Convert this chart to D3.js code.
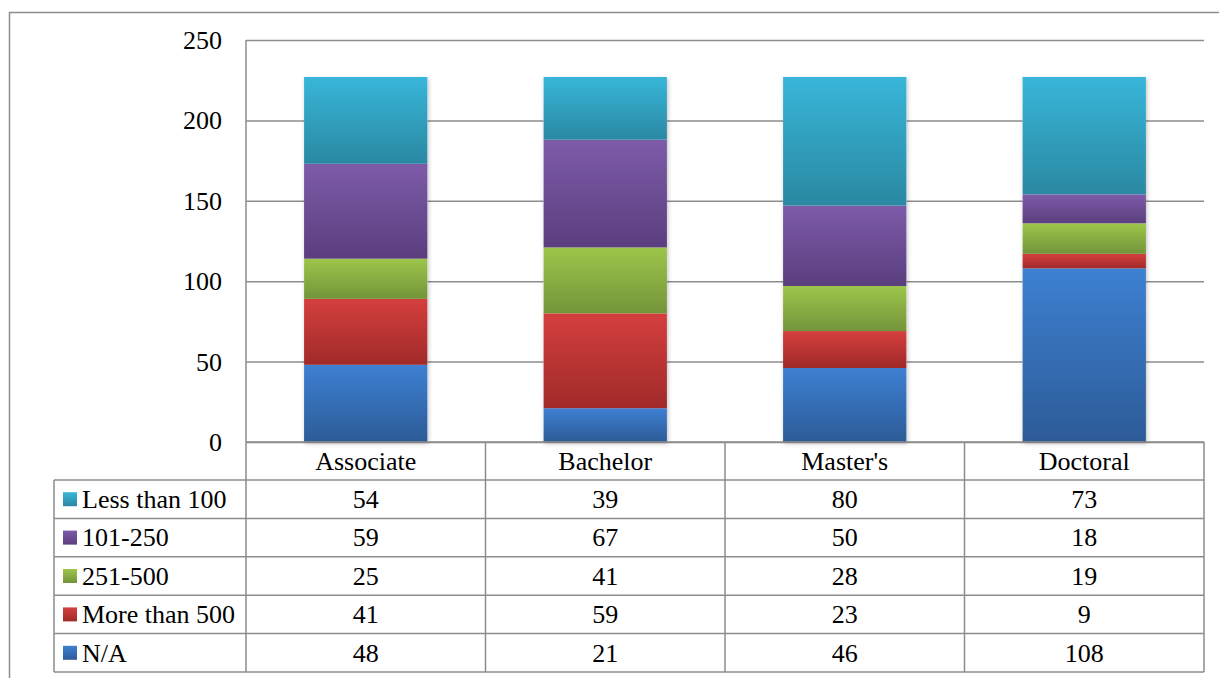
<!DOCTYPE html>
<html>
<head>
<meta charset="utf-8">
<script src="https://cdn.jsdelivr.net/npm/d3@7/dist/d3.min.js"></script>
<style>
html,body{margin:0;padding:0;background:#fff;}
svg{display:block;}
svg text{font-family:"Liberation Serif", serif;}
</style>
</head>
<body>
<svg id="chart" width="1219" height="678"></svg>
<script>
const categories = ["Associate", "Bachelor", "Master's", "Doctoral"];
const seriesNames = ["N/A", "More than 500", "251-500", "101-250", "Less than 100"];
const naValues = [48, 21, 46, 108];
const moreThan500 = [41, 59, 23, 9];
const v251to500 = [25, 41, 28, 19];
const v101to250 = [59, 67, 50, 18];
const lessThan100 = [54, 39, 80, 73];
const yTicks = [0, 50, 100, 150, 200, 250];
const colorsTop = ["#3d80d2", "#d43f3e", "#9dc54a", "#7e5ba9", "#38b6d9"];
const colorsBottom = ["#2d5b97", "#a02a29", "#74943a", "#5a3e7e", "#2a88a2"];

const FONT = `"Liberation Serif", serif`;
const FSIZE = "26px";

const seriesValues = [naValues, moreThan500, v251to500, v101to250, lessThan100];
const rows = categories.map((c, i) => {
  const r = {category: c};
  seriesNames.forEach((s, j) => r[s] = seriesValues[j][i]);
  return r;
});

const svg = d3.select("#chart");
const W = 1219, H = 678;
const plot = {left: 246, right: 1204, top: 40, bottom: 442};
const tableLeft = 54, rowH = 38.4, headerH = 38;
const gray = "#8c8c8c";

svg.append("path").attr("d", `M9.5,${H} L9.5,12.5 L${W},12.5`).attr("fill", "none").attr("stroke", gray).attr("stroke-width", 1.5);

const y = d3.scaleLinear().domain([0, 250]).range([plot.bottom, plot.top]);
const x = d3.scaleBand().domain(categories).range([plot.left, plot.right]).paddingInner(0.485).paddingOuter(0.2425);
const xCol = d3.scaleBand().domain(categories).range([plot.left, plot.right]);

const defs = svg.append("defs");
seriesNames.forEach((s, j) => {
  const g = defs.append("linearGradient").attr("id", "grad" + j).attr("x1", 0).attr("y1", 0).attr("x2", 0).attr("y2", 1);
  g.append("stop").attr("offset", "0%").attr("stop-color", colorsTop[j]);
  g.append("stop").attr("offset", "100%").attr("stop-color", colorsBottom[j]);
});
const f = defs.append("filter").attr("id", "shadow").attr("x", "-10%").attr("y", "-10%").attr("width", "120%").attr("height", "120%");
f.append("feDropShadow").attr("dx", 1).attr("dy", 1.5).attr("stdDeviation", 2).attr("flood-color", "#000").attr("flood-opacity", 0.25);

const yAxis = d3.axisLeft(y).tickValues(yTicks).tickSize(-(plot.right - plot.left)).tickFormat(d3.format("d")).tickPadding(24);
const ga = svg.append("g").attr("transform", `translate(${plot.left},0)`).call(yAxis);
ga.attr("font-family", FONT).attr("font-size", 26);
ga.select(".domain").remove();
ga.selectAll(".tick line").attr("stroke", gray).attr("stroke-width", 1.5);
ga.selectAll(".tick text").style("font-family", FONT).style("font-size", FSIZE).attr("fill", "#000").attr("dy", "0.33em");

svg.append("line").attr("x1", plot.left).attr("x2", plot.left).attr("y1", plot.top).attr("y2", plot.bottom + headerH + rowH * 5)
  .attr("stroke", gray).attr("stroke-width", 1.5);

const stack = d3.stack().keys(seriesNames);
const stacked = stack(rows);
const barG = svg.append("g");
categories.forEach((c, i) => {
  const total = d3.sum(seriesValues, v => v[i]);
  barG.append("rect").attr("x", x(c)).attr("width", x.bandwidth()).attr("y", y(total)).attr("height", y(0) - y(total))
    .attr("fill", "#fff").attr("filter", "url(#shadow)");
});
stacked.forEach((layer, j) => {
  barG.selectAll(null).data(layer).enter().append("rect")
    .attr("x", d => x(d.data.category))
    .attr("width", x.bandwidth())
    .attr("y", d => y(d[1]))
    .attr("height", d => y(d[0]) - y(d[1]))
    .attr("fill", `url(#grad${j})`);
});

const tableBottom = plot.bottom + headerH + rowH * 5;
const tg = svg.append("g").attr("font-family", FONT).attr("font-size", 26);
const lineAttrs = sel => sel.attr("stroke", gray).attr("stroke-width", 1.5);
for (let k = 0; k <= 5; k++) {
  const yy = plot.bottom + headerH + rowH * k;
  tg.append("line").attr("x1", tableLeft).attr("x2", plot.right).attr("y1", yy).attr("y2", yy).call(lineAttrs);
}
tg.append("line").attr("x1", plot.left).attr("x2", plot.right).attr("y1", plot.bottom).attr("y2", plot.bottom).call(lineAttrs);
categories.forEach(c => {
  const xx = xCol(c) + xCol.bandwidth();
  tg.append("line").attr("x1", xx).attr("x2", xx).attr("y1", plot.bottom).attr("y2", tableBottom).call(lineAttrs);
});
tg.append("line").attr("x1", tableLeft).attr("x2", tableLeft).attr("y1", plot.bottom + headerH).attr("y2", tableBottom).call(lineAttrs);

const txt = sel => sel.style("font-family", FONT).style("font-size", FSIZE).attr("fill", "#000");

tg.selectAll(null).data(categories).enter().append("text")
  .attr("x", c => xCol(c) + xCol.bandwidth() / 2)
  .attr("y", plot.bottom + headerH / 2)
  .attr("dy", "0.34em").attr("text-anchor", "middle").call(txt).text(c => c);

const tableOrder = [4, 3, 2, 1, 0];
tableOrder.forEach((j, k) => {
  const cy = plot.bottom + headerH + rowH * k + rowH / 2;
  tg.append("rect").attr("x", 63).attr("y", cy - 7).attr("width", 14).attr("height", 14).attr("fill", `url(#grad${j})`);
  tg.append("text").attr("x", 82).attr("y", cy).attr("dy", "0.34em").call(txt).text(seriesNames[j]);
  categories.forEach((c, i) => {
    tg.append("text").attr("x", xCol(c) + xCol.bandwidth() / 2).attr("y", cy).attr("dy", "0.34em")
      .attr("text-anchor", "middle").call(txt).text(seriesValues[j][i]);
  });
});
</script>
</body>
</html>
